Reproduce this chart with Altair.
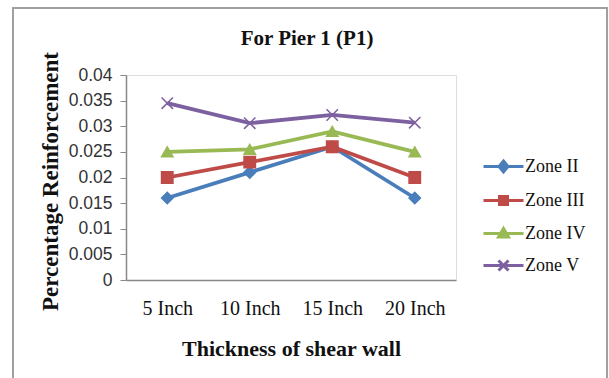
import altair as alt
import pandas as pd

categories = ["5 Inch", "10 Inch", "15 Inch", "20 Inch"]
zones = ["Zone II", "Zone III", "Zone IV", "Zone V"]
zone_ii = [0.016, 0.021, 0.026, 0.016]
zone_iii = [0.020, 0.023, 0.026, 0.020]
zone_iv = [0.025, 0.0255, 0.029, 0.025]
zone_v = [0.0345, 0.0306, 0.0322, 0.0307]
y_ticks = [0, 0.005, 0.01, 0.015, 0.02, 0.025, 0.03, 0.035, 0.04]

colors = ["#4A7EBB", "#BE4B48", "#98B954", "#7D60A0"]
x_path = "M-1,-1L1,1M-1,1L1,-1"
plot_shapes = ["diamond", "square", "triangle-up", x_path]
legend_paths = [
    "M-2,0H2M0,-0.55L0.45,0L0,0.55L-0.45,0Z",
    "M-2,0H2M-0.4,-0.4H0.4V0.4H-0.4Z",
    "M-2,0H2M0,-0.5L0.5,0.35L-0.5,0.35Z",
    "M-2,0H2M-0.5,-0.5L0.5,0.5M-0.5,0.5L0.5,-0.5",
]

rows = []
for zone, vals in zip(zones, [zone_ii, zone_iii, zone_iv, zone_v]):
    for c, v in zip(categories, vals):
        rows.append({"thickness": c, "zone": zone, "value": v})
df = pd.DataFrame(rows)

x_enc = alt.X(
    "thickness:N",
    sort=categories,
    scale=alt.Scale(type="point", padding=0.5),
    axis=alt.Axis(
        title="Thickness of shear wall",
        labelAngle=0,
        ticks=False,
        labelFont="Liberation Serif",
        labelFontSize=20,
        labelColor="#111",
        labelPadding=18,
        titleFont="Liberation Serif",
        titleFontSize=22,
        titleFontWeight="bold",
        titleColor="#111",
        titlePadding=20,
        domainColor="#888",
        domainWidth=1.5,
    ),
)
y_enc = alt.Y(
    "value:Q",
    scale=alt.Scale(domain=[0, 0.04], nice=False),
    axis=alt.Axis(
        title="Percentage Reinforcement",
        values=y_ticks,
        format="~g",
        grid=False,
        labelOverlap=False,
        tickSize=6,
        tickColor="#888",
        domainColor="#888",
        domainWidth=1.5,
        labelFont="Liberation Sans",
        labelFontSize=17.5,
        labelColor="#333",
        labelPadding=8,
        titleFont="Liberation Serif",
        titleFontSize=23,
        titleFontWeight="bold",
        titleColor="#111",
        titlePadding=6,
        titleY=106,
    ),
)

lines = alt.Chart(df).mark_line(strokeWidth=3.8).encode(
    x=x_enc,
    y=y_enc,
    color=alt.Color("zone:N", scale=alt.Scale(domain=zones, range=colors), legend=None),
)

points = alt.Chart(df).mark_point(filled=True, size=130, strokeWidth=1.5, opacity=1).encode(
    x=x_enc,
    y=y_enc,
    fill=alt.Fill("zone:N", scale=alt.Scale(domain=zones, range=colors), legend=None),
    stroke=alt.Stroke("zone:N", scale=alt.Scale(domain=zones, range=colors), legend=None),
    shape=alt.Shape("zone:N", scale=alt.Scale(domain=zones, range=plot_shapes), legend=None),
)

leg = alt.Legend(
    title=None,
    orient="none",
    legendX=366,
    legendY=80,
    symbolSize=400,
    symbolStrokeWidth=3,
    symbolOpacity=1,
    rowPadding=11,
    labelOffset=10,
    labelFont="Liberation Serif",
    labelFontSize=18,
    labelColor="#111",
)

legend_layer = alt.Chart(df).mark_point(filled=True, size=400, strokeWidth=3, opacity=0).encode(
    x=x_enc,
    y=y_enc,
    fill=alt.Fill("zone:N", scale=alt.Scale(domain=zones, range=colors), legend=leg),
    stroke=alt.Stroke("zone:N", scale=alt.Scale(domain=zones, range=colors), legend=leg),
    shape=alt.Shape("zone:N", scale=alt.Scale(domain=zones, range=legend_paths), legend=leg),
)

frame = alt.Chart(pd.DataFrame({"d": [0]})).mark_rect(
    fill=None, stroke="#A0A0A0", strokeWidth=2
).encode(
    x=alt.value(-113), x2=alt.value(481), y=alt.value(-67), y2=alt.value(310)
)

chart = alt.layer(frame, lines, points, legend_layer).resolve_scale(
    shape="independent", fill="independent", stroke="independent"
).properties(
    width=330,
    height=205,
    title=alt.TitleParams(
        "For Pier 1 (P1)",
        font="Liberation Serif",
        fontSize=21,
        fontWeight="bold",
        color="#111",
        anchor="middle",
        frame="group",
        dx=16,
        offset=-42,
    ),
    autosize=alt.AutoSizeParams(type="none"),
    padding={"left": 126, "top": 75, "right": 153, "bottom": 98},
).configure_view(stroke=None).configure(background="white")

chart.save("out.html", embed_options={"renderer": "svg", "actions": False})
